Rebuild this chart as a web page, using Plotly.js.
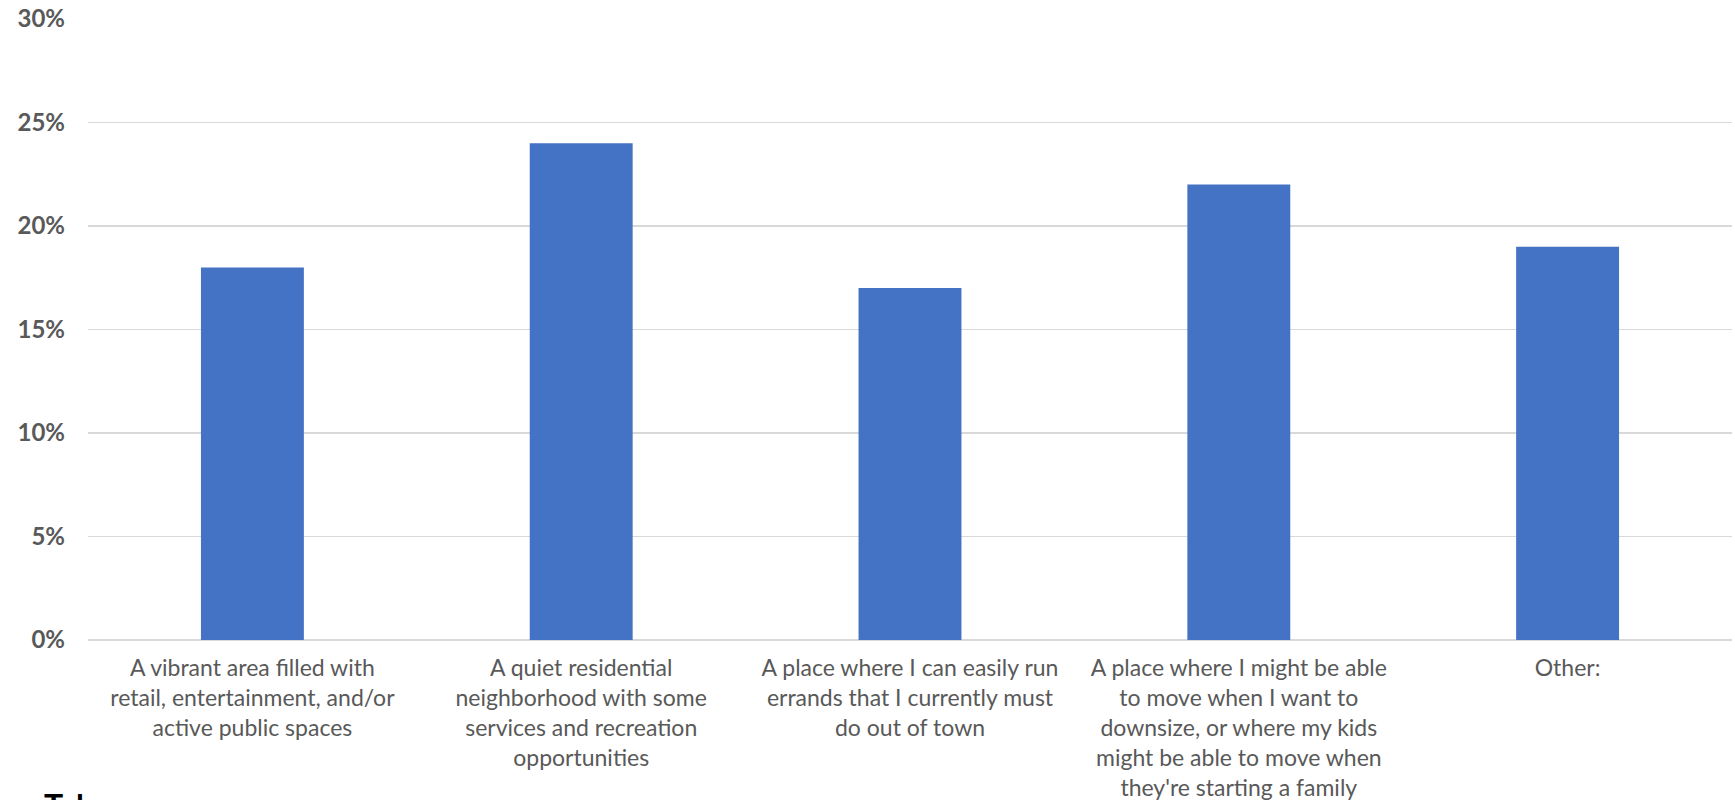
<!DOCTYPE html>
<html>
<head>
<meta charset="utf-8">
<script src="https://cdn.plot.ly/plotly-3.0.1.min.js"></script>
<style>html,body{margin:0;padding:0;background:#fff;}#chart{width:1735px;height:800px;}</style>
</head>
<body>
<div id="chart"></div>
<script>
const categories = [
  "A vibrant area filled with<br>retail, entertainment, and/or<br>active public spaces",
  "A quiet residential<br>neighborhood with some<br>services and recreation<br>opportunities",
  "A place where I can easily run<br>errands that I currently must<br>do out of town",
  "A place where I might be able<br>to move when I want to<br>downsize, or where my kids<br>might be able to move when<br>they're starting a family",
  "Other:"
];
const values = [18, 24, 17, 22, 19];
const yTickVals = [0, 5, 10, 15, 20, 25, 30];
const yTickText = ["0%", "5%", "10%", "15%", "20%", "25%", "30%"];
const footerText = "Tab";

const trace = {
  type: 'bar',
  x: categories,
  y: values,
  marker: {color: '#4472C4'},
  hoverinfo: 'none'
};

const layout = {
  width: 1735,
  height: 800,
  margin: {l: 88, r: 3, t: 19, b: 160},
  paper_bgcolor: '#ffffff',
  plot_bgcolor: '#ffffff',
  bargap: 0.687,
  showlegend: false,
  xaxis: {
    type: 'category',
    showgrid: false,
    showline: false,
    zeroline: false,
    ticks: '',
    tickangle: 0,
    tickfont: {family: 'Lato, sans-serif', size: 23, color: '#595959'},
    ticklabelstandoff: 12
  },
  yaxis: {
    range: [0, 30],
    tickvals: yTickVals,
    ticktext: yTickText,
    showgrid: true,
    gridcolor: '#d9d9d9',
    gridwidth: 1.5,
    zeroline: true,
    zerolinecolor: '#d9d9d9',
    zerolinewidth: 1.5,
    showline: false,
    ticks: '',
    tickfont: {family: 'Lato, sans-serif', size: 24, color: '#595959', weight: 'bold'},
    ticklabelstandoff: 22
  },
  annotations: [{
    text: footerText,
    xref: 'paper', yref: 'paper',
    x: -0.028, y: -0.232,
    xanchor: 'left', yanchor: 'top',
    showarrow: false,
    font: {family: 'Lato, sans-serif', size: 32, color: '#000000', weight: 'bold'}
  }]
};

Plotly.newPlot('chart', [trace], layout, {displayModeBar: false, staticPlot: true});
</script>
</body>
</html>
